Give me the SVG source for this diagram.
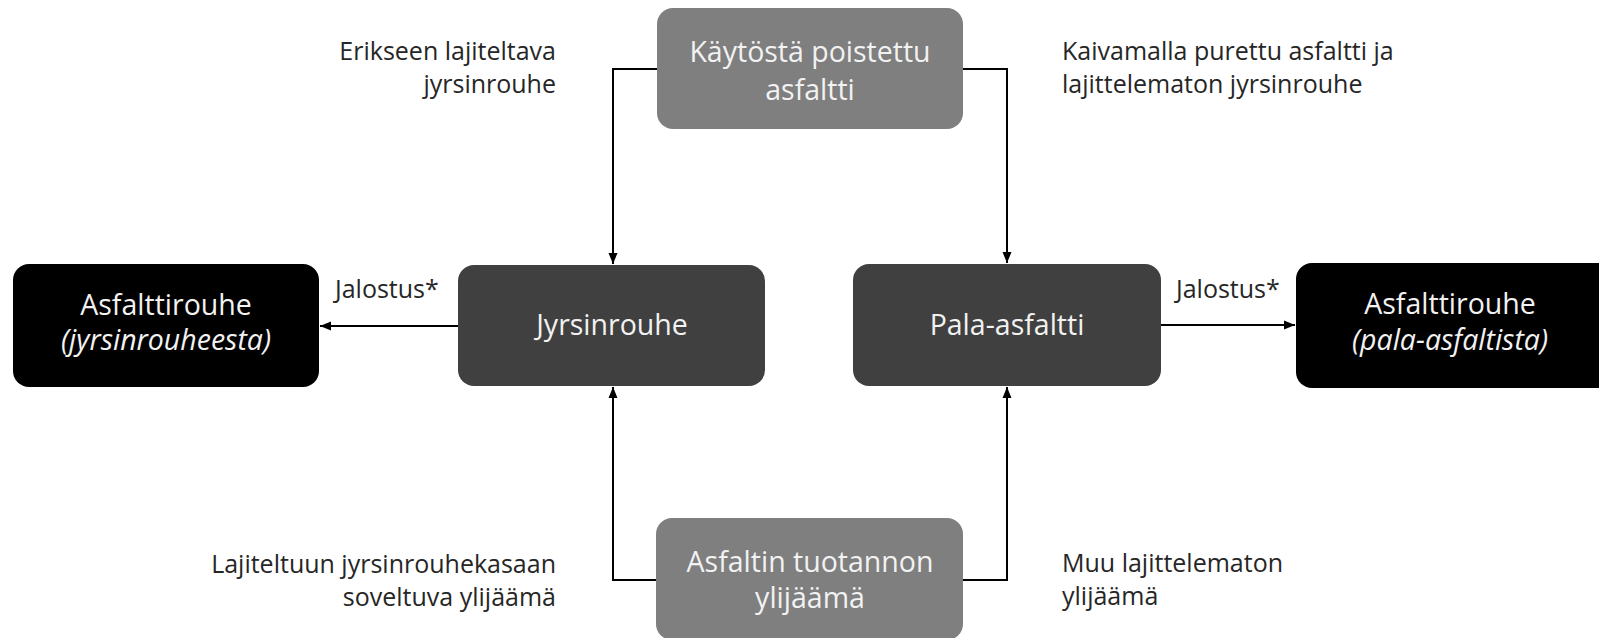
<svg xmlns="http://www.w3.org/2000/svg" width="1599" height="638" viewBox="0 0 1599 638">
<style>
.lbl{font-family:"Open Sans","Liberation Sans",sans-serif;font-size:25px;fill:#262626}
.bt{font-family:"Open Sans","Liberation Sans",sans-serif;font-size:28.5px;fill:#f2f2f2;text-anchor:middle}
.it{font-style:italic}
.conn{fill:none;stroke:#000;stroke-width:2}
.gray{fill:#7f7f7f}
.dark{fill:#404040}
.black{fill:#000}
</style>
<defs>
<marker id="arr" markerUnits="userSpaceOnUse" markerWidth="12" markerHeight="12" viewBox="0 0 12 12" refX="11" refY="6" orient="auto">
<path d="M0,1.5 L11,6 L0,10.5 Z" fill="#000"/>
</marker>
</defs>
<rect width="1599" height="638" fill="#fff"/>
<g id="connectors">
<path class="conn" d="M657,69 H613 V264" marker-end="url(#arr)"/>
<path class="conn" d="M963,69 H1007 V263" marker-end="url(#arr)"/>
<path class="conn" d="M656,580 H613 V387" marker-end="url(#arr)"/>
<path class="conn" d="M963,580 H1007 V387" marker-end="url(#arr)"/>
<path class="conn" d="M458,326 H320" marker-end="url(#arr)"/>
<path class="conn" d="M1161,325 H1295" marker-end="url(#arr)"/>
</g>
<g id="labels">
<text class="lbl" text-anchor="end"><tspan x="556" y="60">Erikseen lajiteltava</tspan><tspan x="556" y="93">jyrsinrouhe</tspan></text>
<text class="lbl"><tspan x="1062" y="60">Kaivamalla purettu asfaltti ja</tspan><tspan x="1062" y="93">lajittelematon jyrsinrouhe</tspan></text>
<text class="lbl" text-anchor="end"><tspan x="556" y="573">Lajiteltuun jyrsinrouhekasaan</tspan><tspan x="556" y="606">soveltuva ylijäämä</tspan></text>
<text class="lbl"><tspan x="1062" y="572">Muu lajittelematon</tspan><tspan x="1062" y="605">ylijäämä</tspan></text>
<text class="lbl" x="335" y="298">Jalostus*</text>
<text class="lbl" x="1176" y="298">Jalostus*</text>
</g>
<g id="n-kaytosta">
<rect class="gray" x="657" y="8" width="306" height="121" rx="16"/>
<text class="bt"><tspan x="810" y="62">Käytöstä poistettu</tspan><tspan x="810" y="100">asfaltti</tspan></text>
</g>
<g id="n-tuotanto">
<rect class="gray" x="656" y="518" width="307" height="122" rx="16"/>
<text class="bt"><tspan x="810" y="572">Asfaltin tuotannon</tspan><tspan x="810" y="608">ylijäämä</tspan></text>
</g>
<g id="n-jyrsinrouhe">
<rect class="dark" x="458" y="265" width="307" height="121" rx="16"/>
<text class="bt" x="612" y="335">Jyrsinrouhe</text>
</g>
<g id="n-pala">
<rect class="dark" x="853" y="264" width="308" height="122" rx="16"/>
<text class="bt" x="1007" y="335">Pala-asfaltti</text>
</g>
<g id="n-rouhe-j">
<rect class="black" x="13" y="264" width="306" height="123" rx="16"/>
<text class="bt"><tspan x="166" y="315">Asfalttirouhe</tspan><tspan class="it" x="166" y="350">(jyrsinrouheesta)</tspan></text>
</g>
<g id="n-rouhe-p">
<rect class="black" x="1296" y="263" width="318" height="125" rx="16"/>
<text class="bt"><tspan x="1450" y="314">Asfalttirouhe</tspan><tspan class="it" x="1450" y="350">(pala-asfaltista)</tspan></text>
</g>
</svg>
